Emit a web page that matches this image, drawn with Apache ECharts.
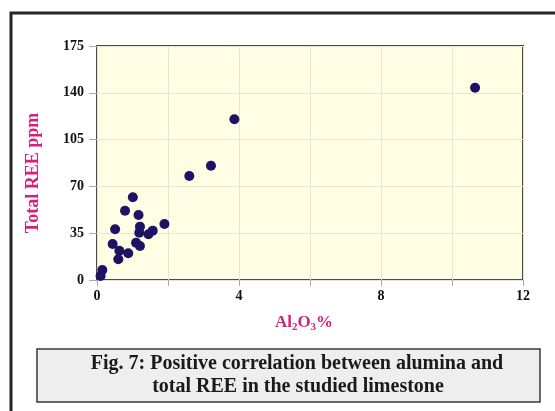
<!DOCTYPE html>
<html>
<head>
<meta charset="utf-8">
<script src="https://cdn.jsdelivr.net/npm/echarts@6/dist/echarts.min.js"></script>
<style>
html,body{margin:0;padding:0;background:#fff;}
#chart{width:555px;height:411px;}
</style>
</head>
<body>
<div id="chart"></div>
<script>
// Al2O3 % values
var al2o3 = [1.01, 0.79, 1.17, 0.51, 1.21, 1.19, 1.90, 1.57, 1.45, 0.44, 1.10, 1.21, 0.63, 0.88, 0.60, 0.15, 0.10, 2.60, 3.21, 3.87, 10.65];
// Total REE ppm values
var totalREE = [61.9, 51.8, 48.6, 37.9, 39.9, 35.4, 41.9, 36.9, 34.2, 26.9, 27.9, 25.4, 21.9, 20.0, 15.5, 7.5, 3.0, 77.8, 85.5, 120.2, 143.8];
var xTickLabels = ['0', '4', '8', '12'];
var yTickLabels = ['0', '35', '70', '105', '140', '175'];
var yTitle = 'Total REE ppm';
var xTitleRich = '{n|Al}{s|2}{n|O}{s|3}{n|%}';
var captionLines = ['Fig. 7: Positive correlation between alumina and', 'total REE in the studied limestone'];

var points = al2o3.map(function (x, i) { return [x, totalREE[i]]; });
var serif = '"Liberation Serif", "Times New Roman", serif';
var pink = '#d6207c';

var chart = echarts.init(document.getElementById('chart'), null, {renderer: 'canvas'});
chart.setOption({
  animation: false,
  backgroundColor: '#ffffff',
  grid: {
    left: 97, top: 46, width: 426, height: 234,
    show: true, backgroundColor: '#fffde4',
    borderColor: '#4a4a4a', borderWidth: 2
  },
  xAxis: {
    type: 'value', min: 0, max: 12, interval: 2,
    axisLine: {show: false},
    axisTick: {show: true, length: 6, lineStyle: {color: '#aaaaaa'}},
    axisLabel: {
      margin: 9, fontFamily: serif, fontWeight: 'bold', fontSize: 14, color: '#111',
      formatter: function (v) {
        var s = String(v);
        return xTickLabels.indexOf(s) >= 0 ? s : '';
      }
    },
    splitLine: {show: true, lineStyle: {color: '#e6e4d2', width: 1}}
  },
  yAxis: {
    type: 'value', min: 0, max: 175, interval: 35,
    axisLine: {show: false},
    axisTick: {show: true, length: 8, lineStyle: {color: '#aaaaaa'}},
    axisLabel: {
      margin: 13, fontFamily: serif, fontWeight: 'bold', fontSize: 14, color: '#111',
      formatter: function (v) {
        var s = String(v);
        return yTickLabels.indexOf(s) >= 0 ? s : '';
      }
    },
    splitLine: {show: true, lineStyle: {color: '#e6e4d2', width: 1}}
  },
  graphic: [
    {
      type: 'rect', z: -10, silent: true,
      shape: {x: 11, y: 13, width: 700, height: 600},
      style: {fill: 'none', stroke: '#252525', lineWidth: 3}
    },
    {
      type: 'text', silent: true,
      x: 33, y: 173, rotation: Math.PI / 2,
      style: {
        text: yTitle, font: 'bold 18px ' + serif, fill: pink,
        align: 'center', verticalAlign: 'middle'
      }
    },
    {
      type: 'text', silent: true,
      x: 304, y: 323,
      style: {
        text: xTitleRich, align: 'center', verticalAlign: 'middle',
        rich: {
          n: {fontFamily: serif, fontWeight: 'bold', fontSize: 17, fill: pink},
          s: {fontFamily: serif, fontWeight: 'bold', fontSize: 11, fill: pink, padding: [9, 0, 0, 0]}
        }
      }
    },
    {
      type: 'rect', z: 10, silent: true,
      shape: {x: 37, y: 349, width: 503, height: 53},
      style: {fill: '#eeeeee', stroke: '#3a3a3a', lineWidth: 1.5}
    },
    {
      type: 'text', z: 11, silent: true,
      style: {
        x: 297, y: 364, text: captionLines[0],
        font: 'bold 20px ' + serif, fill: '#1a1a1a',
        textAlign: 'center', textVerticalAlign: 'middle'
      }
    },
    {
      type: 'text', z: 11, silent: true,
      style: {
        x: 298, y: 387, text: captionLines[1],
        font: 'bold 20px ' + serif, fill: '#1a1a1a',
        textAlign: 'center', textVerticalAlign: 'middle'
      }
    }
  ],
  series: [{
    type: 'scatter',
    data: points,
    symbol: 'circle',
    symbolSize: 10,
    itemStyle: {color: '#1e1264', opacity: 1}
  }]
});
</script>
</body>
</html>
